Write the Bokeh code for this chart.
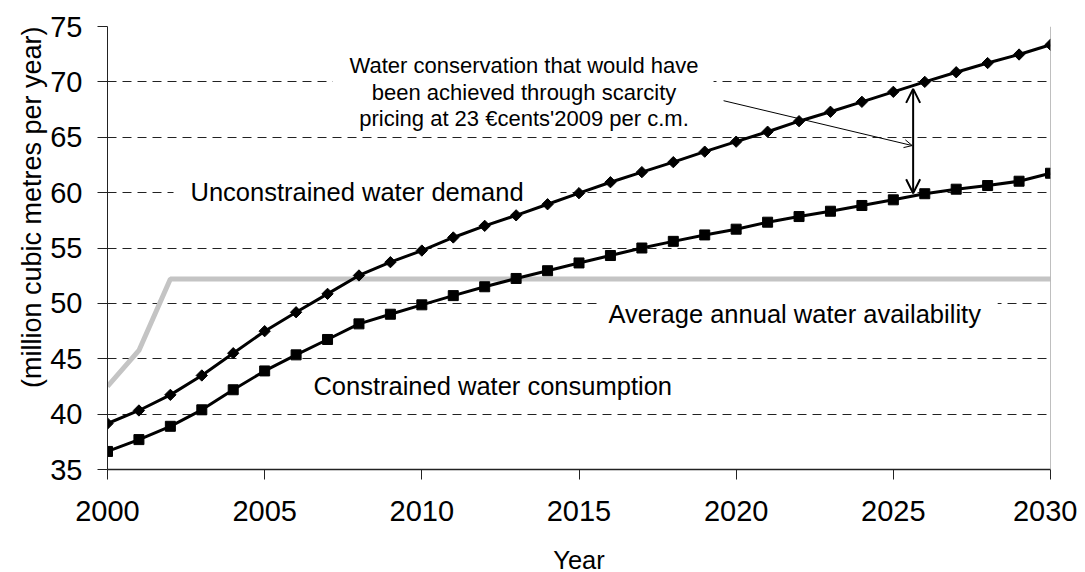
import numpy as np
from bokeh.plotting import figure
from bokeh.models import Range1d, FixedTicker, Arrow, OpenHead, Span, Title
from bokeh.core.properties import value
from bokeh.embed import file_html
from bokeh.resources import INLINE

# ---------------- data ----------------
years = list(range(2000, 2031))
demand = [39.15, 40.33, 41.74, 43.49, 45.50, 47.49, 49.20, 50.86, 52.52, 53.72,
          54.77, 55.95, 57.00, 57.95, 58.95, 59.95, 60.94, 61.85, 62.75, 63.70,
          64.60, 65.50, 66.45, 67.30, 68.20, 69.10, 70.00, 70.87, 71.70, 72.47,
          73.35]
consumption = [36.63, 37.70, 38.90, 40.39, 42.20, 43.90, 45.35, 46.74, 48.15, 49.02,
               49.87, 50.70, 51.50, 52.25, 52.95, 53.65, 54.32, 55.00, 55.60, 56.18,
               56.70, 57.33, 57.84, 58.32, 58.84, 59.35, 59.90, 60.31, 60.64, 61.03,
               61.75]
availability = [42.5, 45.75] + [52.2] * 29

x_ticks = [2000, 2005, 2010, 2015, 2020, 2025, 2030]
y_ticks = [35, 40, 45, 50, 55, 60, 65, 70, 75]

x_title = "Year"
y_title = "(million cubic metres per year)"
series_labels = ["Unconstrained water demand",
                 "Constrained water consumption",
                 "Average annual water availability"]
note_lines = ["Water conservation that would have",
              "been achieved through scarcity",
              "pricing at 23 \u20accents'2009 per c.m."]

FONT = "Liberation Sans"

p = figure(frame_width=943, frame_height=443,
           min_border_left=107, min_border_right=27, min_border_top=26, min_border_bottom=95,
           x_range=Range1d(2000, 2030), y_range=Range1d(35, 75),
           output_backend="svg", toolbar_location=None)
p.outline_line_color = None
p.background_fill_color = "white"

# grid
p.xgrid.visible = False
p.ygrid.ticker = FixedTicker(ticks=y_ticks)
p.ygrid.grid_line_color = "#222222"
p.ygrid.grid_line_dash = "9 6"
p.ygrid.grid_line_width = 1

# axes
for ax in (p.xaxis[0], p.yaxis[0]):
    ax.major_label_text_font = FONT
    ax.major_label_text_font_size = "29px"
    ax.major_label_text_color = "black"
    ax.axis_label_text_font = FONT
    ax.axis_label_text_font_style = "normal"
    ax.axis_label_text_color = "black"
    ax.major_tick_in = 0
    ax.major_tick_out = 10
    ax.minor_tick_line_color = None
    ax.axis_line_color = "#222222"
    ax.major_tick_line_color = "#222222"

p.xaxis.ticker = FixedTicker(ticks=x_ticks)
p.yaxis.ticker = FixedTicker(ticks=y_ticks)
p.xaxis.axis_label = x_title
p.xaxis.axis_label_text_font_size = "25.5px"
p.xaxis.axis_line_width = 1.5
p.xaxis.major_label_standoff = 21
p.xaxis.axis_label_standoff = 22
p.yaxis.major_label_standoff = 15

# y title as a side title, placed toward the top like the reference
p.add_layout(Title(text=y_title, align="right", offset=0, standoff=2,
                   text_font=FONT, text_font_size="27px", text_font_style="normal",
                   text_color="black"), "left")

# right border line
p.add_layout(Span(location=2030, dimension="height", line_color="#808080", line_width=1))

# white label backgrounds (cover gridlines)
p.quad(left=[2007.16, 2002.1, 2015.62, 2006.3],
       right=[2019.28, 2014.41, 2028.32, 2018.0],
       top=[73.55, 62.45, 51.34, 44.8],
       bottom=[65.79, 59.29, 48.27, 41.95],
       fill_color="white", line_color=None)

# series
p.line(years, availability, line_width=5, line_color="#c4c4c4")
p.line(years, demand, line_width=3, line_color="black")
p.scatter(years, demand, marker="square", angle=np.pi / 4, size=8,
          fill_color="black", line_color="black")
p.line(years, consumption, line_width=3, line_color="black")
p.scatter(years, consumption, marker="square", size=10,
          fill_color="black", line_color="black")

# series labels
p.text(x=[2002.64, 2006.55, 2015.94], y=[60.04, 42.58, 49.06], text=series_labels,
       text_font=value(FONT), text_font_size="25.5px", text_align="left",
       text_baseline="alphabetic", text_color="black")

# annotation text
p.text(x=[2013.25] * 3, y=[71.48, 69.07, 66.67], text=note_lines,
       text_font=value(FONT), text_font_size="22px", text_align="center",
       text_baseline="alphabetic", text_color="black")

# arrows
p.add_layout(Arrow(end=OpenHead(size=8, line_width=1, line_color="black"),
                   x_start=2019.6, y_start=68.3, x_end=2025.6, y_end=64.25,
                   line_width=1, line_color="black"))
p.add_layout(Arrow(start=OpenHead(size=14, line_width=2, line_color="black"),
                   end=OpenHead(size=14, line_width=2, line_color="black"),
                   x_start=2025.63, y_start=59.95, x_end=2025.63, y_end=69.37,
                   line_width=2, line_color="black"))

open("out.html", "w").write(file_html(p, INLINE))
